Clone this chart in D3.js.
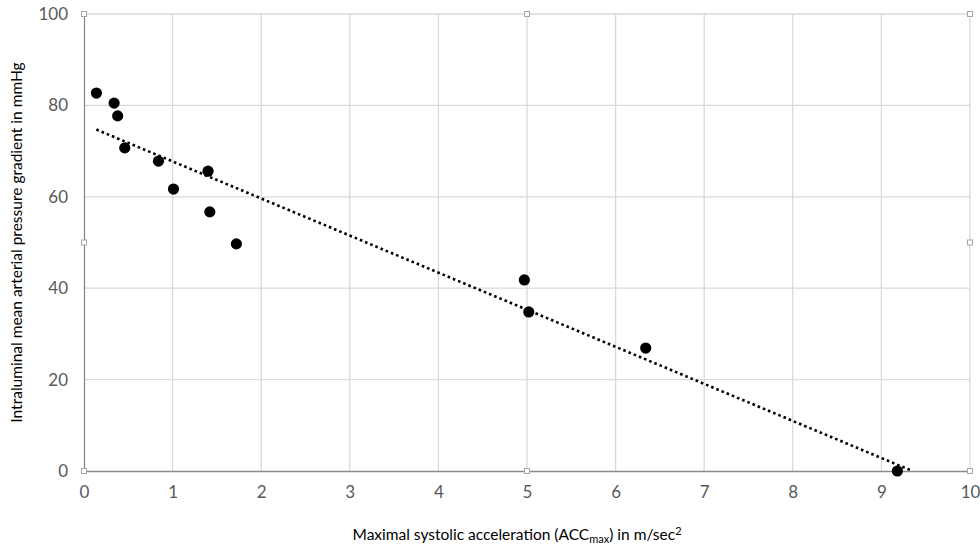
<!DOCTYPE html>
<html lang="en">
<head>
  <meta charset="UTF-8">
  <title>ACCmax vs pressure gradient</title>
  <script src="https://d3js.org/d3.v7.min.js"></script>
  <style>
    body { margin: 0; background: #fff; }
    text { font-family: Lato, "Open Sans", sans-serif; }
  </style>
</head>
<body>
  <div id="chart"></div>
  <script>
    // values
    const accMax = [0.14, 0.34, 0.38, 0.46, 0.84, 1.01, 1.40, 1.42, 1.72, 4.97, 5.02, 6.34, 9.18];
    const gradient = [82.7, 80.5, 77.7, 70.7, 67.8, 61.7, 65.6, 56.7, 49.7, 41.8, 34.8, 26.9, 0];
    const xTicks = [0, 1, 2, 3, 4, 5, 6, 7, 8, 9, 10];
    const yTicks = [0, 20, 40, 60, 80, 100];

    const W = 980, H = 547;
    const margin = { top: 14, right: 10, bottom: 76, left: 84 };
    const width = W - margin.left - margin.right;
    const height = H - margin.top - margin.bottom;

    const svg = d3.select("#chart").append("svg")
      .attr("width", W).attr("height", H);
    const g = svg.append("g")
      .attr("transform", `translate(${margin.left},${margin.top})`);

    const x = d3.scaleLinear().domain([0, 10]).range([0, width]);
    const y = d3.scaleLinear().domain([0, 100]).range([height, 0]);

    // grid
    g.append("g").selectAll("line").data(xTicks.slice(1)).enter().append("line")
      .attr("x1", d => x(d)).attr("x2", d => x(d))
      .attr("y1", 0).attr("y2", height)
      .attr("stroke", "#d9d9d9").attr("stroke-width", 1.3);
    g.append("g").selectAll("line").data(yTicks.slice(1)).enter().append("line")
      .attr("x1", 0).attr("x2", width)
      .attr("y1", d => y(d)).attr("y2", d => y(d))
      .attr("stroke", "#d9d9d9").attr("stroke-width", 1.3);

    // axes
    const xAxis = g.append("g").attr("transform", `translate(0,${height})`)
      .call(d3.axisBottom(x).tickValues(xTicks).tickSize(0).tickPadding(15));
    const yAxis = g.append("g")
      .call(d3.axisLeft(y).tickValues(yTicks).tickSize(0).tickPadding(16));
    [xAxis, yAxis].forEach(a => {
      a.select(".domain").attr("stroke", "#8a8a8a").attr("stroke-width", 1.3);
      a.selectAll("text").attr("fill", "#595959").style("font-size", "17px")
        .style("font-family", "Lato, 'Open Sans', sans-serif");
    });

    // trendline (least squares), drawn from min x to where it meets y = 0
    const mx = d3.mean(accMax), my = d3.mean(gradient);
    const sxy = d3.sum(accMax, (v, i) => (v - mx) * (gradient[i] - my));
    const sxx = d3.sum(accMax, v => (v - mx) * (v - mx));
    const slope = sxy / sxx, icpt = my - slope * mx;
    const x0 = d3.min(accMax), x1 = -icpt / slope;
    g.append("line")
      .attr("x1", x(x0)).attr("y1", y(icpt + slope * x0))
      .attr("x2", x(x1)).attr("y2", y(0))
      .attr("stroke", "#000").attr("stroke-width", 2.6)
      .attr("stroke-dasharray", "2.6 3");

    // points
    g.selectAll("circle.pt").data(accMax).enter().append("circle")
      .attr("class", "pt")
      .attr("cx", d => x(d))
      .attr("cy", (d, i) => y(gradient[i]))
      .attr("r", 5.6)
      .attr("fill", "#000");

    // selection handles
    const hx = [0, 5, 10], hy = [0, 50, 100];
    const handles = [];
    hx.forEach(a => hy.forEach(b => { if (!(a === 5 && b === 50)) handles.push([a, b]); }));
    g.selectAll("rect.h").data(handles).enter().append("rect")
      .attr("class", "h")
      .attr("x", d => x(d[0]) - 2.5).attr("y", d => y(d[1]) - 2.5)
      .attr("width", 5).attr("height", 5)
      .attr("fill", "#fff").attr("stroke", "#a6a6a6").attr("stroke-width", 1);

    // axis titles
    const xt = svg.append("text")
      .attr("x", margin.left + width / 2 - 10).attr("y", 540)
      .attr("text-anchor", "middle")
      .attr("fill", "#000").style("font-size", "15.5px");
    xt.append("tspan").text("Maximal systolic acceleration (ACC");
    xt.append("tspan").attr("dy", 3).style("font-size", "11px").text("max");
    xt.append("tspan").attr("dy", -3).text(") in m/sec");
    xt.append("tspan").attr("dy", -5).style("font-size", "11px").text("2");

    svg.append("text")
      .attr("transform", `translate(22,${margin.top + height / 2}) rotate(-90)`)
      .attr("text-anchor", "middle")
      .attr("fill", "#000").style("font-size", "15.5px")
      .text("Intraluminal mean arterial pressure gradient in mmHg");
  </script>
</body>
</html>
